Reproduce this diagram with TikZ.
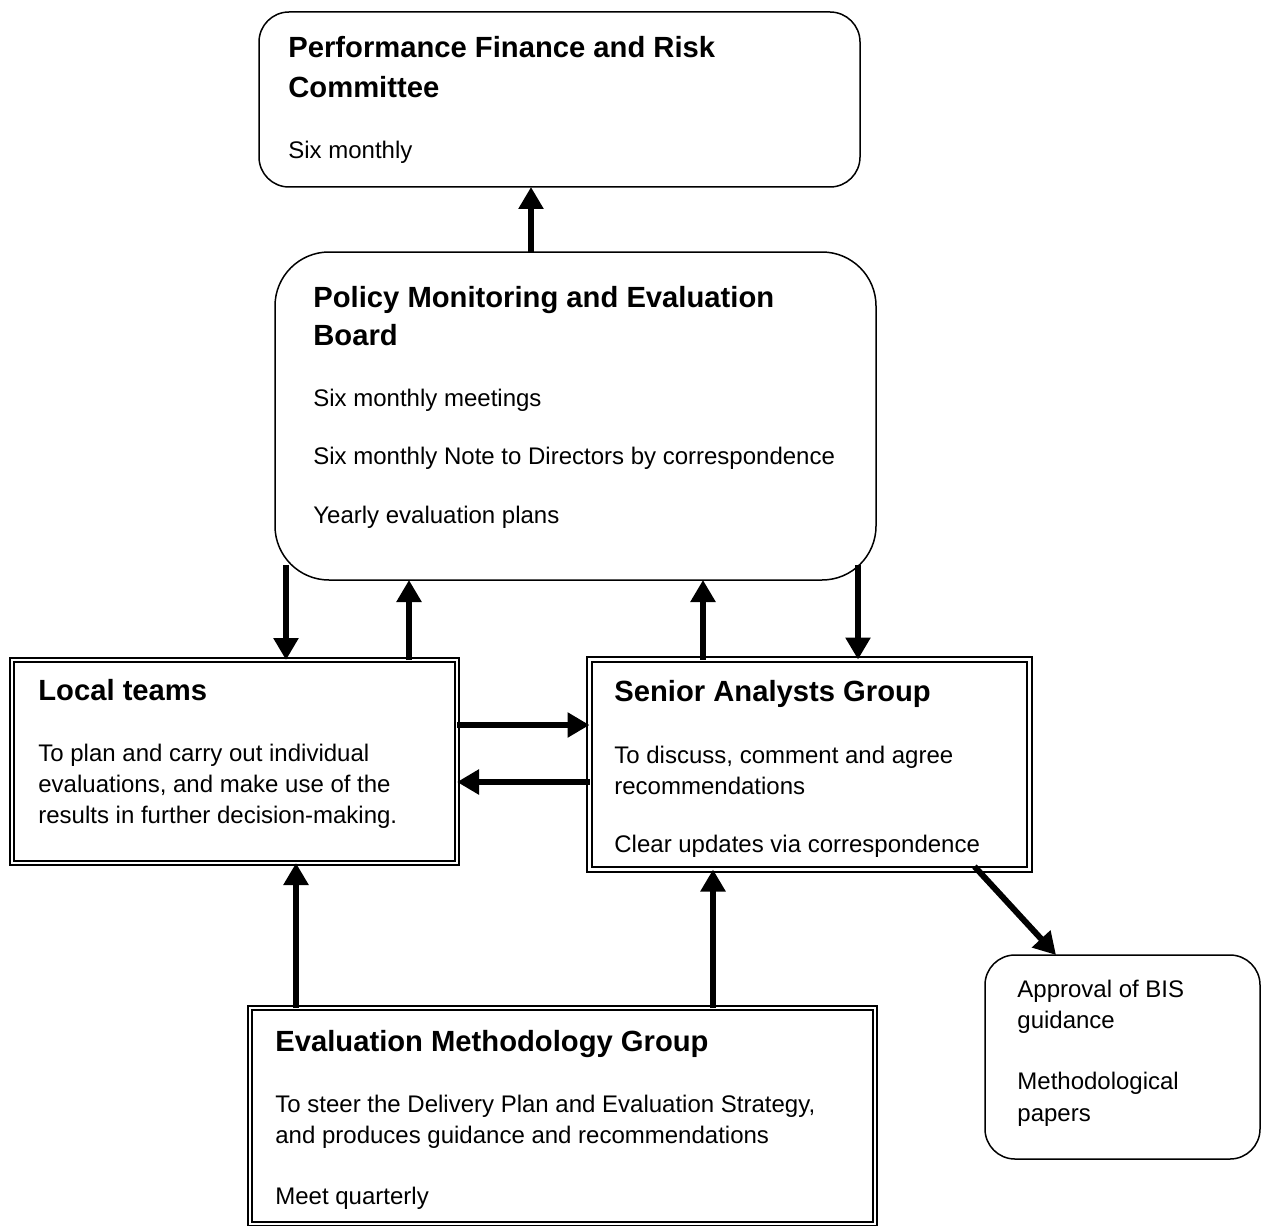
\documentclass[tikz,border=0pt]{standalone}
\usepackage{fontspec}
\setmainfont{Liberation Sans}
\usetikzlibrary{arrows.meta,calc}
\tikzset{
  panel/.style={draw, line width=0.75pt, rounded corners=#1, inner sep=0pt, outer sep=0pt},
  frame/.style={draw, line width=0.9pt, double, double distance=1.3pt, inner sep=0pt, outer sep=0pt},
  flow/.style={line width=3pt, -{Triangle[width=12pt,length=11pt]}},
  head/.style={anchor=base west, inner sep=0pt, font=\fontsize{14.6}{17}\selectfont\bfseries},
  body/.style={anchor=base west, inner sep=0pt, font=\fontsize{12}{14}\selectfont},
}
\begin{document}
\begin{tikzpicture}[x=0.5pt,y=-0.5pt]
\clip (0,0) rectangle (1267,1225);
\fill[white] (0,0) rectangle (1267,1225);

% boxes
\node[panel=15pt, minimum width=300.5pt, minimum height=87.5pt] (pfrc) at (559.5,99.5) {};
\node[panel=27pt, minimum width=300.5pt, minimum height=164pt] (pmeb) at (575.5,416) {};
\node[frame, minimum width=222.5pt, minimum height=101.5pt] (lt) at (234.5,761.5) {};
\node[frame, minimum width=220pt, minimum height=105pt] (sag) at (809.5,764.5) {};
\node[frame, minimum width=312.5pt, minimum height=108pt] (emg) at (562.5,1116) {};
\node[panel=15pt, minimum width=137.5pt, minimum height=102pt] (appr) at (1122.5,1057) {};

% texts
\node[head] (pfrc-h1) at (288,58) {Performance Finance and Risk};
\node[head] (pfrc-h2) at (288,98) {Committee};
\node[body] (pfrc-b1) at (288,159) {Six monthly};

\node[head] (pmeb-h1) at (313,307) {Policy Monitoring and Evaluation};
\node[head] (pmeb-h2) at (313,345) {Board};
\node[body] (pmeb-b1) at (313,406) {Six monthly meetings};
\node[body] (pmeb-b2) at (313,464) {Six monthly Note to Directors by correspondence};
\node[body] (pmeb-b3) at (313,523) {Yearly evaluation plans};

\node[head] (lt-h1) at (38,700) {Local teams};
\node[body] (lt-b1) at (38,761) {To plan and carry out individual};
\node[body] (lt-b2) at (38,792) {evaluations, and make use of the};
\node[body] (lt-b3) at (38,823) {results in further decision-making.};

\node[head] (sag-h1) at (614,701) {Senior Analysts Group};
\node[body] (sag-b1) at (614,763) {To discuss, comment and agree};
\node[body] (sag-b2) at (614,794) {recommendations};
\node[body] (sag-b3) at (614,852) {Clear updates via correspondence};

\node[head] (emg-h1) at (275,1051) {Evaluation Methodology Group};
\node[body] (emg-b1) at (275,1112) {To steer the Delivery Plan and Evaluation Strategy,};
\node[body] (emg-b2) at (275,1143) {and produces guidance and recommendations};
\node[body] (emg-b3) at (275,1204) {Meet quarterly};

\node[body] (appr-b1) at (1017,997) {Approval of BIS};
\node[body] (appr-b2) at (1017,1028) {guidance};
\node[body] (appr-b3) at (1017,1089) {Methodological};
\node[body] (appr-b4) at (1017,1121) {papers};

% connectors
\draw[flow] ($(pmeb.north west)+(256,0)$) -- ($(pfrc.south west)+(272,0)$);
\draw[flow] ($(pmeb.south west)+(11,-15)$) -- ($(lt.north west)+(274,0)$);
\draw[flow] ($(lt.north west)+(397,0)$) -- ($(pmeb.south west)+(134,0)$);
\draw[flow] ($(sag.north west)+(113.5,0)$) -- ($(pmeb.south west)+(428,0)$);
\draw[flow] ($(pmeb.south west)+(583,-15)$) -- ($(sag.north west)+(268.5,0)$);
\draw[flow] ($(lt.north east)+(0,65)$) -- ($(sag.north west)+(0,65.5)$);
\draw[flow] ($(sag.north west)+(0,122.5)$) -- ($(lt.north east)+(0,122)$);
\draw[flow] ($(emg.north west)+(46,0)$) -- ($(lt.south west)+(284,0)$);
\draw[flow] ($(emg.north west)+(463,0)$) -- ($(sag.south west)+(123.5,0)$);
\draw[flow] ($(sag.south west)+(385,-3)$) -- ($(appr.north west)+(71,0)$);
\end{tikzpicture}
\end{document}
